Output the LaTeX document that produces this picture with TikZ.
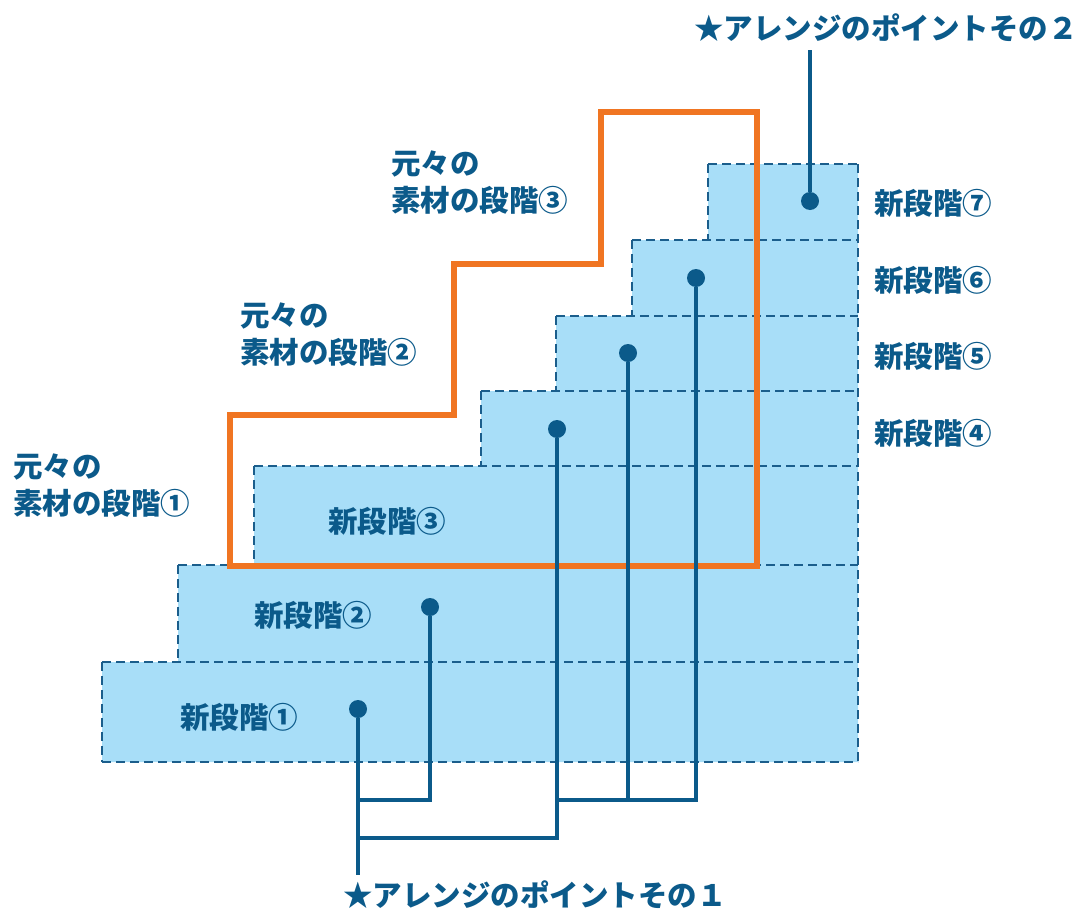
\documentclass[tikz,border=0pt]{standalone}
\usepackage{fontspec}
\setmainfont{Noto Sans CJK JP}
\definecolor{navy}{HTML}{0B5A8A}
\definecolor{fillblue}{HTML}{A8DEF8}
\definecolor{dashblue}{HTML}{1B5E8C}
\definecolor{orng}{HTML}{F07522}
\tikzset{
  stepline/.style={draw=dashblue, line width=1.6pt, dash pattern=on 9pt off 5pt},
  dotnode/.style={circle, fill=navy, inner sep=0pt, minimum size=18pt},
  conn/.style={draw=navy, line width=3.5pt},
  lbl/.style={text=navy, font=\fontsize{29.5}{37}\selectfont\bfseries, inner sep=0pt},
  frame/.style={draw=orng, line width=6.5pt, line join=miter},
}
\begin{document}
\begin{tikzpicture}[x=1pt,y=-1pt]
\useasboundingbox (0,0) rectangle (1090,910);
% blue staircase fill
\fill[fillblue] (102,762) -- (858,762) -- (858,164) -- (708,164) -- (708,240) -- (632,240)
  -- (632,316) -- (556,316) -- (556,391) -- (481,391) -- (481,466) -- (254,466)
  -- (254,565) -- (178,565) -- (178,662) -- (102,662) -- cycle;
% dashed outlines of steps
\draw[stepline] (708,164) -- (858,164);
\draw[stepline] (632,240) -- (858,240);
\draw[stepline] (556,316) -- (858,316);
\draw[stepline] (481,391) -- (858,391);
\draw[stepline] (254,466) -- (858,466);
\draw[stepline] (178,565) -- (858,565);
\draw[stepline] (102,662) -- (858,662);
\draw[stepline] (102,762) -- (858,762);
\draw[stepline] (858,164) -- (858,762);
\draw[stepline] (708,164) -- (708,240);
\draw[stepline] (632,240) -- (632,316);
\draw[stepline] (556,316) -- (556,391);
\draw[stepline] (481,391) -- (481,466);
\draw[stepline] (254,466) -- (254,565);
\draw[stepline] (178,565) -- (178,662);
\draw[stepline] (102,662) -- (102,762);
% orange frame
\draw[frame] (230,566) -- (230,415) -- (454,415) -- (454,264) -- (601,264) -- (601,112)
  -- (757,112) -- (757,566) -- cycle;
% dots
\node[dotnode] (d7) at (810,201) {};
\node[dotnode] (d6) at (696,278) {};
\node[dotnode] (d5) at (628,353) {};
\node[dotnode] (d4) at (557,429) {};
\node[dotnode] (d2) at (430,607) {};
\node[dotnode] (d1) at (358,709) {};
% labels
\node[lbl, anchor=west] (s7) at (874,203) {新段階⑦};
\node[lbl, anchor=west] (s6) at (874,280) {新段階⑥};
\node[lbl, anchor=west] (s5) at (874,356) {新段階⑤};
\node[lbl, anchor=west] (s4) at (874,433) {新段階④};
\node[lbl, anchor=west] (s3) at (328,521) {新段階③};
\node[lbl, anchor=west] (s2) at (254,615) {新段階②};
\node[lbl, anchor=west] (s1) at (180,717) {新段階①};
\node[lbl, anchor=north west, align=left] (m3) at (391,151) {元々の\\素材の段階③};
\node[lbl, anchor=north west, align=left] (m2) at (240,303) {元々の\\素材の段階②};
\node[lbl, anchor=north west, align=left] (m1) at (13,454) {元々の\\素材の段階①};
\node[lbl] (p2) at (886,28) {★アレンジのポイントその２};
\node[lbl] (p1) at (535,895) {★アレンジのポイントその１};
% connectors
\coordinate (t2) at (810,50);
\coordinate (b1) at (358,875);
\coordinate (j1) at (358,800);
\coordinate (j2) at (358,838);
\coordinate (j3) at (557,800);
\coordinate (j5) at (628,800);
\draw[conn] (d7) -- (t2);
\draw[conn] (d1) -- (b1);
\draw[conn] (j1) -| (d2);
\draw[conn] (j2) -| (d4);
\draw[conn] (j3) -| (d6);
\draw[conn] (j5) -- (d5);
\end{tikzpicture}
\end{document}
